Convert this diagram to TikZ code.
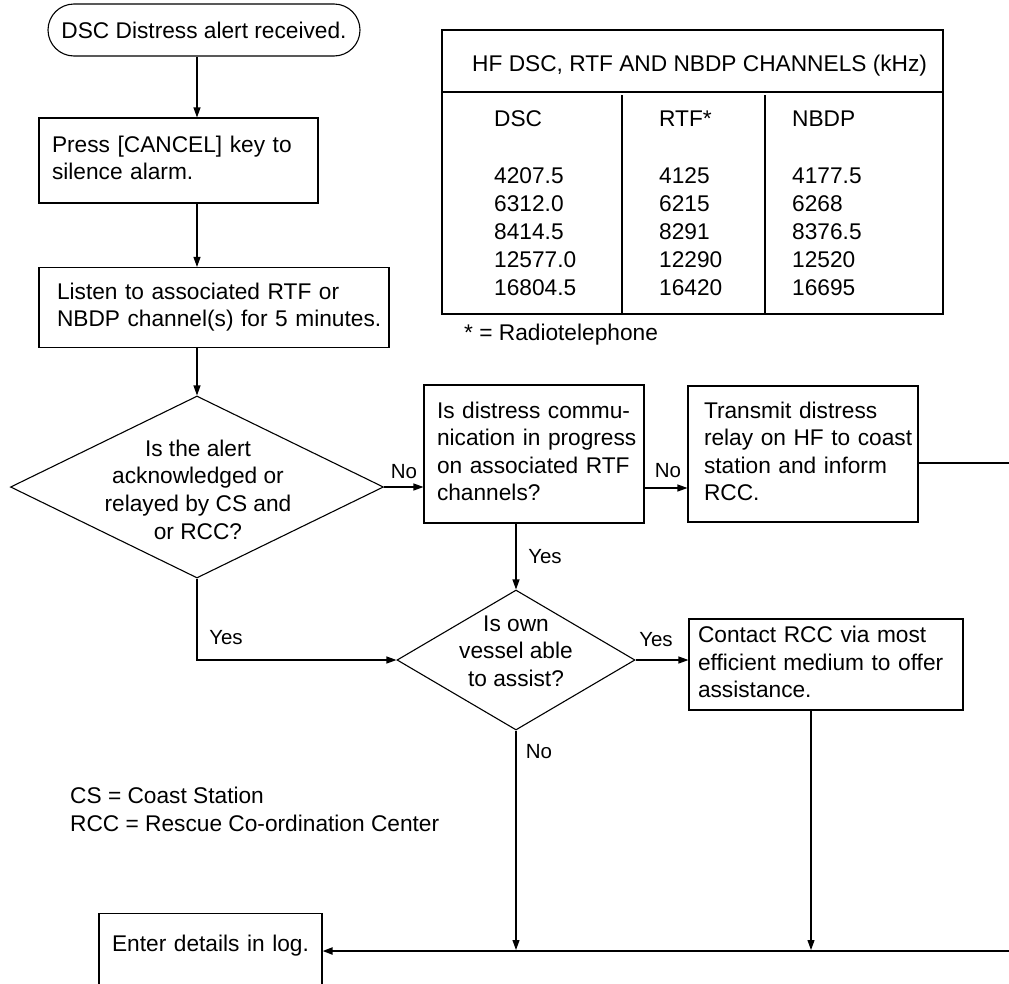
\documentclass[tikz,border=0pt]{standalone}
\usepackage{fontspec}
\setmainfont{Liberation Sans}
\usetikzlibrary{arrows.meta,shapes.geometric}
\newcommand{\linesL}[1]{\begin{tabular}{@{}l@{}}#1\end{tabular}}
\begin{document}
\begin{tikzpicture}[x=1pt,y=-1pt,
  every node/.style={font=\fontsize{22.7}{27.6}\selectfont},
  ln/.style={line width=1.1pt},
  thk/.style={line width=2pt},
  arr/.style={ln,-{Triangle[length=10pt,width=7pt]}},
  thkarr/.style={thk,-{Triangle[length=10pt,width=7pt]}},
  box/.style={draw,ln,rectangle,inner ysep=0pt,align=left},
  dia/.style={draw,ln,diamond,inner sep=0pt},
  lbl/.style={font=\fontsize{20.5}{24}\selectfont,inner sep=0pt},
  cell/.style={anchor=base west,inner sep=0pt},
  note/.style={anchor=base west,inner sep=0pt}]
\useasboundingbox (0,0) rectangle (1009,983);
\clip (0,0) rectangle (1009,983);

% flow nodes
\node[box,rounded corners=26pt,minimum width=312pt,minimum height=52pt,align=center,inner xsep=0pt] (start) at (204,30) {DSC Distress alert received.};
\node[box,text width=253pt,inner xsep=13pt,minimum height=85pt] (cancel) at (178.5,160.5) {\linesL{Press [CANCEL] key to\\silence alarm.}};
\node[box,text width=314pt,inner xsep=18pt,minimum height=80pt] (listen) at (214,307.5) {\linesL{Listen to associated RTF or\\NBDP channel(s) for 5 minutes.}};
\node[dia,minimum width=373pt,minimum height=182pt] (d1) at (197,487) {};
\node[align=center,inner sep=0pt] (d1t) at (198,489.5) {Is the alert\\acknowledged or\\relayed by CS and\\or RCC?};
\node[box,text width=194pt,inner xsep=13pt,minimum height=138pt] (comm) at (534,454) {\linesL{Is distress commu-\\nication in progress\\on associated RTF\\channels?}};
\node[box,text width=198pt,inner xsep=16pt,minimum height=136pt] (relay) at (803,454) {\linesL{Transmit distress\\relay on HF to coast\\station and inform\\RCC.}};
\node[dia,minimum width=238pt,minimum height=140pt] (d2) at (516,660) {};
\node[align=center,inner sep=0pt] (d2t) at (516,651) {Is own\\vessel able\\to assist?};
\node[box,text width=256pt,inner xsep=9pt,minimum height=91pt] (contact) at (826,664.5) {\linesL{Contact RCC via most\\efficient medium to offer\\assistance.}};
\node[box,align=center,text width=223pt,inner xsep=0pt,inner ysep=21pt,text height=17pt,text depth=60pt,anchor=north] (log) at (210.5,913) {Enter details in log.};

% helper coordinates
\coordinate (ax) at (197,0);
\coordinate (r1) at (0,488);
\coordinate (r2) at (0,463);
\coordinate (rightA) at (1009,463);
\coordinate (rightB) at (1009,951);
\coordinate (bus) at (0,950);
\coordinate (c2) at (811,0);

% connectors
\draw[arr] (start.south -| ax) -- (cancel.north -| ax);
\draw[arr] (cancel.south -| ax) -- (listen.north -| ax);
\draw[arr] (listen.south -| ax) -- (d1.north);
\draw[arr] (d1.east) -- (comm.west |- d1.east);
\draw[arr] (comm.east |- r1) -- (relay.west |- r1);
\draw[thk] (relay.east |- r2) -- (rightA);
\draw[arr] (comm.south -| d2.north) -- (d2.north);
\draw[arr] (d1.south) |- (d2.west);
\draw[arr] (d2.east) -- (contact.west |- d2.east);
\draw[arr] (contact.south -| c2) -- (c2 |- bus);
\draw[arr] (d2.south) -- (d2.south |- bus);
\draw[thkarr] (rightB) -- (log.east |- rightB);

% connector labels
\node[lbl] (lno1) at (404,472) {No};
\node[lbl] (lno2) at (668,471) {No};
\node[lbl] (lyes1) at (545,557) {Yes};
\node[lbl] (lyes2) at (226,638) {Yes};
\node[lbl] (lyes3) at (656,640) {Yes};
\node[lbl] (lno3) at (539,752) {No};

% notes
\node[note] (ncs) at (70,803) {CS = Coast Station};
\node[note] (nrcc) at (70,831) {RCC = Rescue Co-ordination Center};

% table
\node[draw,thk,minimum width=501pt,minimum height=284pt,inner sep=0pt] (tbl) at (692.5,172) {};
\draw[thk] (tbl.west |- 0,92) -- (tbl.east |- 0,92);
\draw[thk] (622,95) -- (622,313);
\draw[thk] (765,95) -- (765,313);
\node[cell] (ttitle) at (472,71) {HF DSC, RTF AND NBDP CHANNELS (kHz)};
\node[cell] (hdsc) at (494,126) {DSC};
\node[cell] (hrtf) at (659,126) {RTF*};
\node[cell] (hnbdp) at (792,126) {NBDP};
\foreach \a/\b/\c [count=\i] in {4207.5/4125/4177.5,6312.0/6215/6268,8414.5/8291/8376.5,12577.0/12290/12520,16804.5/16420/16695}{
  \node[cell] (dsc\i) at (494,155+28*\i) {\a};
  \node[cell] (rtf\i) at (659,155+28*\i) {\b};
  \node[cell] (nbdp\i) at (792,155+28*\i) {\c};
}
\node[note] (nradio) at (464,340) {* = Radiotelephone};
\end{tikzpicture}
\end{document}
